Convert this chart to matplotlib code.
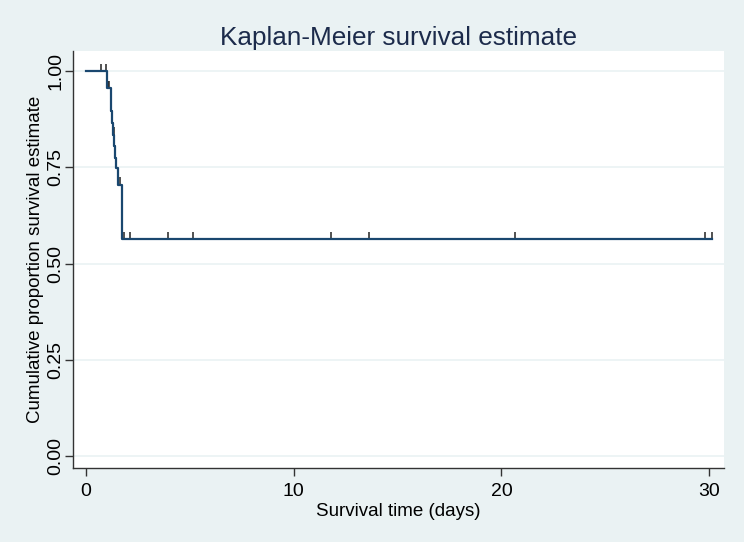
import numpy as np
import matplotlib
matplotlib.use("Agg")
import matplotlib.pyplot as plt

# Kaplan-Meier step curve (time in days, survival proportion)
km_time = [0, 1.04, 1.20, 1.24, 1.28, 1.32, 1.36, 1.40, 1.44, 1.56, 1.73, 30.11]
km_surv = [1.0, 0.955, 0.925, 0.895, 0.865, 0.835, 0.805, 0.775, 0.748, 0.705, 0.5625, 0.5625]
# censored observations
cens_time = [0.72, 1.0, 1.08, 1.12, 1.34, 1.45, 1.66, 1.84, 2.15, 3.98, 5.14, 11.82, 13.63, 20.64, 29.79, 30.11]

x_ticks = [0, 10, 20, 30]
y_ticks = [0, 0.25, 0.5, 0.75, 1.0]
y_ticklabels = ["0.00", "0.25", "0.50", "0.75", "1.00"]

BG = "#EAF2F3"
LINE = "#1A476F"
plt.rcParams.update({"font.family": ["Liberation Sans", "DejaVu Sans"]})

fig = plt.figure(figsize=(7.44, 5.42), dpi=100, facecolor=BG)
ax = fig.add_axes([73/744, 1-468/542, (724-73)/744, (468-51)/542])
ax.set_facecolor("white")

for y in y_ticks:
    ax.axhline(y, color=BG, lw=1.2, zorder=0)

# censor ticks: short vertical marks sitting on the curve
idx = np.searchsorted(km_time, cens_time, side="right") - 1
cs = np.array(km_surv)[idx]
ax.vlines(cens_time, cs, cs + 0.019, color="#222222", lw=1.1, zorder=2)

ax.step(km_time, km_surv, where="post", color=LINE, lw=1.6, zorder=3)

ax.set_xlim(-0.611, 30.707)
ax.set_ylim(-0.0312, 1.052)
ax.set_xticks(x_ticks)
ax.set_yticks(y_ticks)
ax.set_yticklabels(y_ticklabels, rotation=90, va="center")
ax.tick_params(axis="both", length=6, width=1, color="#333333", labelsize=14, labelcolor="black")
ax.tick_params(axis="x", pad=5)
ax.tick_params(axis="y", pad=0)
for s in ["top", "right"]:
    ax.spines[s].set_visible(False)
for s in ["left", "bottom"]:
    ax.spines[s].set_color("#333333")
    ax.spines[s].set_linewidth(1)

ax.set_xlabel("Survival time (days)", fontsize=13.5, labelpad=2)
ax.set_ylabel("Cumulative proportion survival estimate", fontsize=13.5, labelpad=3)
fig.text(0.536, 1-38/542, "Kaplan-Meier survival estimate", ha="center", va="center",
         fontsize=18.8, color="#1c2b4b")

fig.savefig("out.png", dpi=100, facecolor=BG)
